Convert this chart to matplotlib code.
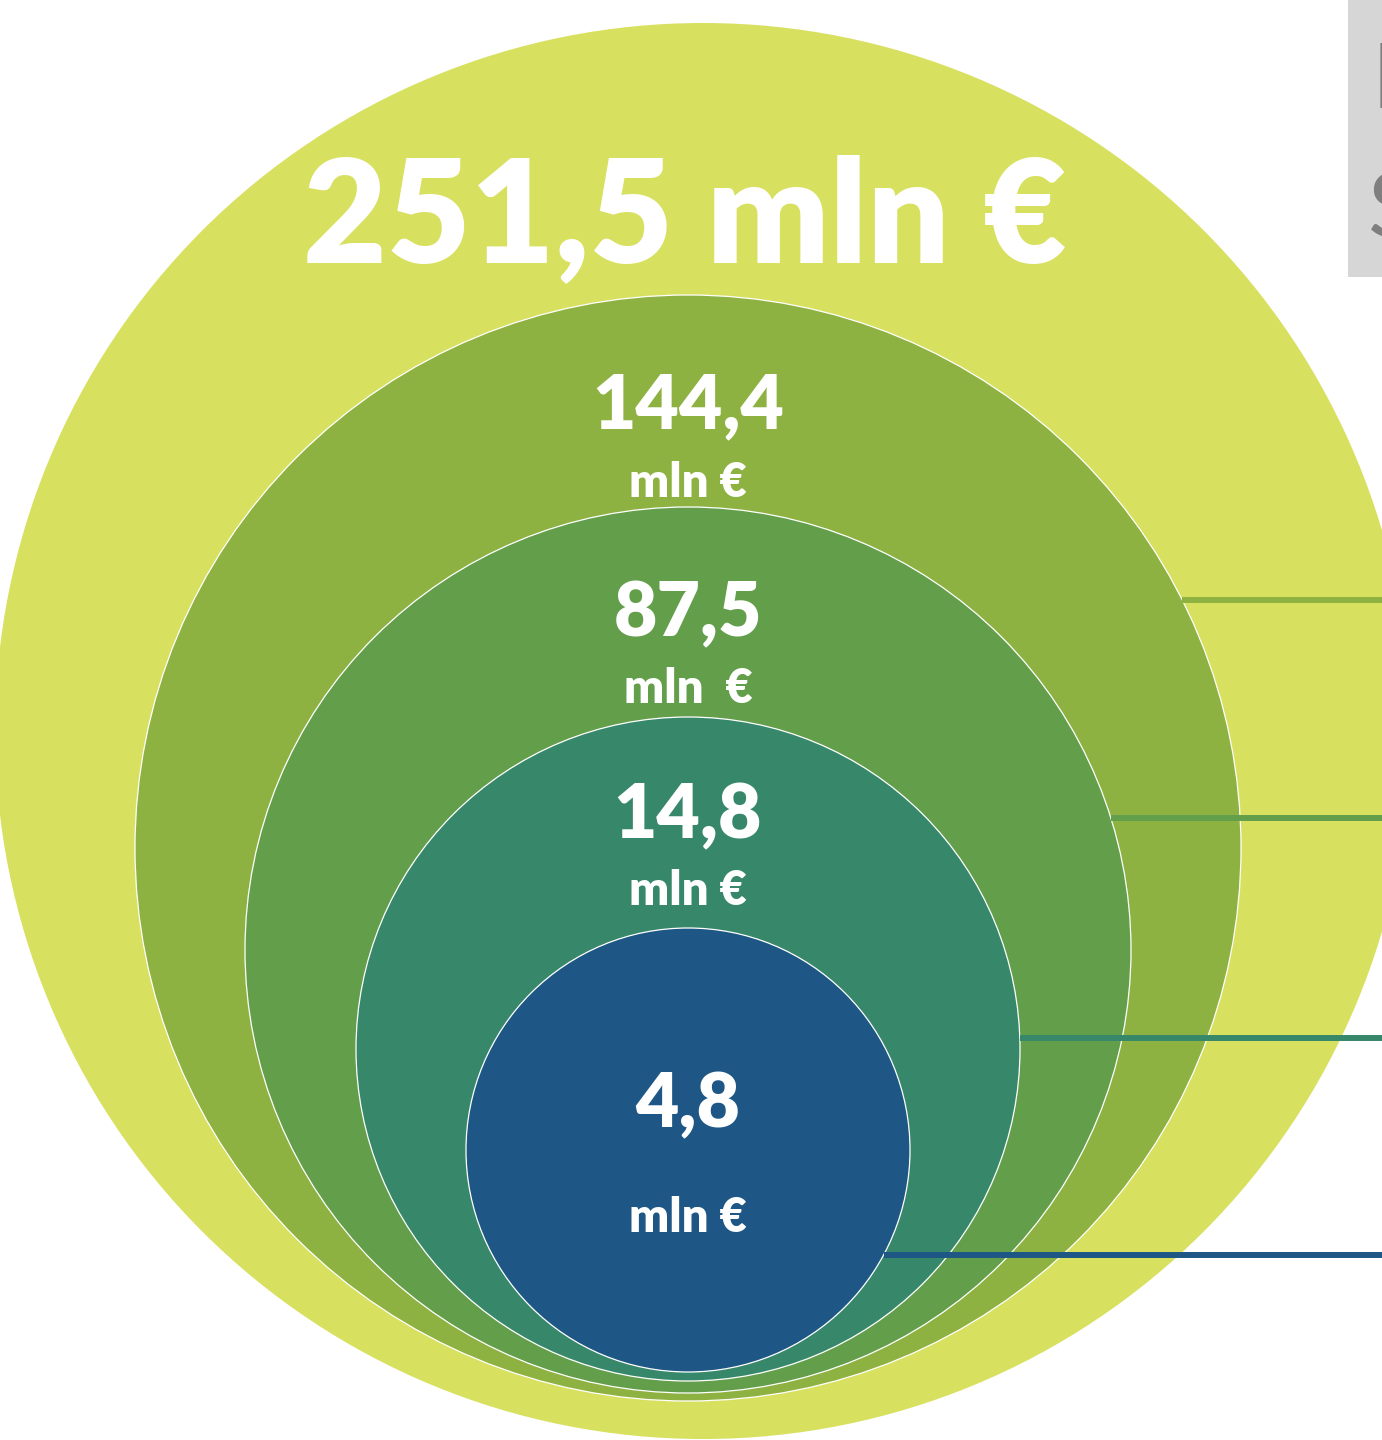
import matplotlib.pyplot as plt
from matplotlib.patches import Circle, Rectangle

# values shown in the nested circles (outer -> inner)
values = ["251,5", "144,4", "87,5", "14,8", "4,8"]
units = ["mln €", "mln €", "mln  €", "mln €", "mln €"]
colors = ["#d8e060", "#8eb241", "#639e4b", "#37886a", "#1e5785"]

# circle layout in pixel coords (cx, cy, r)
circles = [(703, 731, 708), (688, 848, 553), (688, 950, 443), (688, 1049, 332), (688, 1150, 222)]
line_y = [None, 600, 818, 1038, 1255]
num_base = [262, 428, 636, 838, 1127]
unit_base = [None, 497, 703, 905, 1232]

W, H = 1382, 1440
fig = plt.figure(figsize=(W / 100, H / 100), dpi=100)
ax = fig.add_axes([0, 0, 1, 1])
ax.set_xlim(0, W)
ax.set_ylim(H, 0)
ax.axis("off")

font = "Lato"
wt = "heavy"

for i, (cx, cy, r) in enumerate(circles):
    ec = "none" if i == 0 else "white"
    ax.add_patch(Circle((cx, cy), r, facecolor=colors[i], edgecolor=ec, lw=0.9, zorder=i + 1))

# connector lines from circle edge to the right border
for i, y in enumerate(line_y):
    if y is None:
        continue
    cx, cy, r = circles[i]
    x0 = cx + (r ** 2 - (y - cy) ** 2) ** 0.5
    ax.plot([x0, W], [y, y], color=colors[i], lw=4.3, solid_capstyle="butt", zorder=10)

# big outer label
ax.text(685, num_base[0], values[0] + " " + units[0], color="white", fontsize=104,
        fontweight=wt, family=font, ha="center", va="baseline", zorder=20)

for i in range(1, 5):
    ax.text(688, num_base[i], values[i], color="white", fontsize=54, fontweight=wt,
            family=font, ha="center", va="baseline", zorder=20)
    ax.text(688, unit_base[i], units[i], color="white", fontsize=34, fontweight=wt,
            family=font, ha="center", va="baseline", zorder=20)

# grey legend box cut off at the right edge
ax.add_patch(Rectangle((1348, 0), 40, 277, facecolor="#d6d6d6", edgecolor="none", zorder=15))
ax.text(1372, 108, "L", color="#7f7f7f", fontsize=66, family=font, ha="left",
        va="baseline", zorder=16, clip_on=True)
ax.text(1368, 238, "S", color="#7f7f7f", fontsize=66, family=font, ha="left",
        va="baseline", zorder=16, clip_on=True)

fig.savefig("out.png", dpi=100)
